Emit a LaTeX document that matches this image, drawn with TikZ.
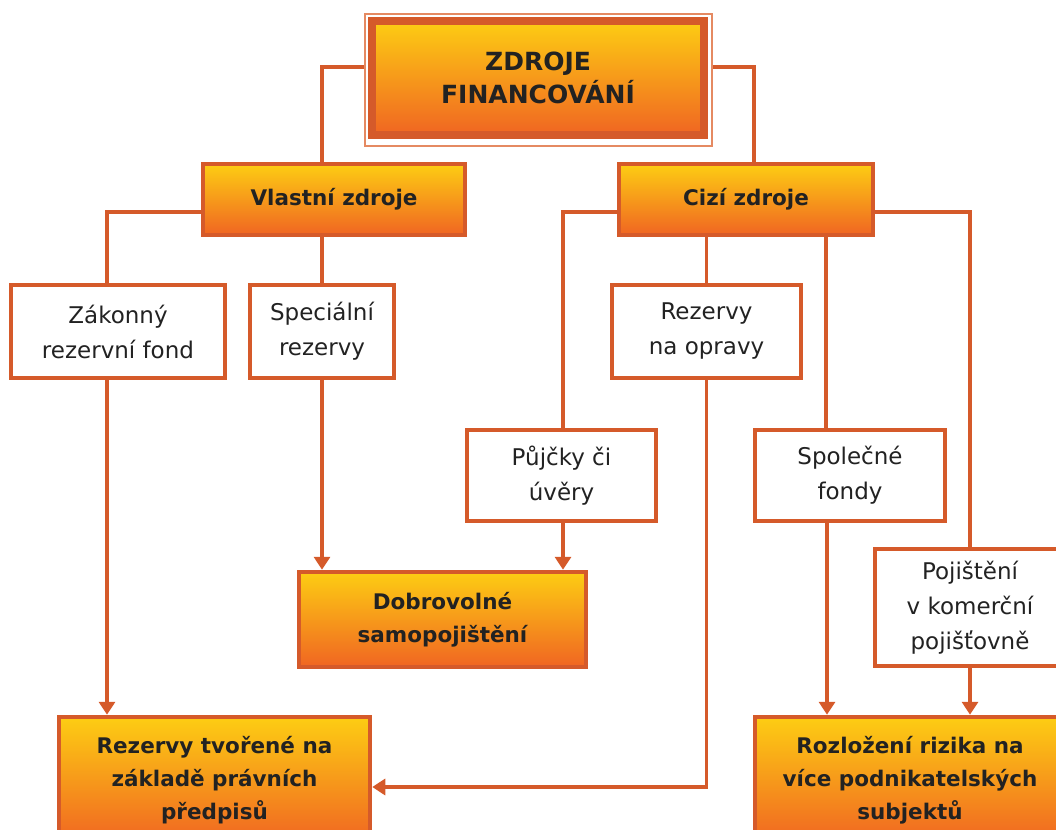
\documentclass[tikz,border=0pt]{standalone}
\usepackage{fontspec}
\setmainfont{DejaVu Sans}
\usetikzlibrary{arrows.meta}
\definecolor{edgeor}{HTML}{D55A2A}
\definecolor{frameor}{HTML}{E58A62}
\definecolor{gradtop}{HTML}{FDCD13}
\definecolor{gradbot}{HTML}{F06522}
\definecolor{ink}{HTML}{222222}
\tikzset{
  plainbox/.style={draw=edgeor, line width=4.5pt, fill=white, align=center,
    inner sep=0pt, text=ink, font=\fontsize{23}{35}\selectfont},
  keybox/.style={plainbox, top color=gradtop, bottom color=gradbot,
    font=\bfseries\fontsize{21.5}{33}\selectfont},
  link/.style={draw=edgeor, line width=3.5pt},
  arrowlink/.style={link, -{Triangle[length=13pt,width=16pt]}},
}
\begin{document}
\begin{tikzpicture}[x=1pt,y=-1pt]
\useasboundingbox (0,0) rectangle (1056,829);

% root with its double frame
\node[draw=frameor, line width=1.5pt, minimum width=347pt, minimum height=132pt,
  inner sep=0pt] (topframe) at (538.5,80) {};
\node[keybox, line width=8pt, minimum width=332pt, minimum height=114pt,
  font=\bfseries\fontsize{25}{33}\selectfont] (top) at (538,78) {ZDROJE\\FINANCOVÁNÍ};

% second level
\node[keybox, minimum width=262pt, minimum height=71pt] (vl) at (334,199.5) {Vlastní zdroje};
\node[keybox, minimum width=254pt, minimum height=71pt] (cz) at (746,199.5) {Cizí zdroje};

% white boxes
\node[plainbox, minimum width=214pt, minimum height=93pt] (zk) at (118,331.5) {Zákonný\\rezervní fond};
\node[plainbox, minimum width=144pt, minimum height=93pt] (sp) at (322,331.5) {Speciální\\rezervy};
\node[plainbox, minimum width=189pt, minimum height=93pt] (op) at (706.5,331.5) {Rezervy\\na opravy};
\node[plainbox, minimum width=189pt, minimum height=91pt] (pj) at (561.5,475.5) {Půjčky či\\úvěry};
\node[plainbox, minimum width=190pt, minimum height=91pt] (sf) at (850,475.5) {Společné\\fondy};
\node[plainbox, minimum width=190pt, minimum height=117pt] (pz) at (970,607.5) {Pojištění\\v komerční\\pojišťovně};

% result boxes
\node[keybox, minimum width=287pt, minimum height=95pt] (db) at (442.5,619.5) {Dobrovolné\\samopojištění};
\node[keybox, minimum width=311pt, minimum height=126pt] (rt) at (214.5,780) {Rezervy tvořené na\\základě právních\\předpisů};
\node[keybox, minimum width=310pt, minimum height=126pt] (rz) at (910,780) {Rozložení rizika na\\více podnikatelských\\subjektů};

% tree lines
\draw[link] ([yshift=13pt]topframe.west) -| (vl.north -| sp.north);
\draw[link] ([yshift=13pt]topframe.east) -| ([xshift=8pt]cz.north);
\draw[link] ([yshift=-12.5pt]vl.west) -| ([xshift=-11pt]zk.north);
\draw[link] (vl.south -| sp.north) -- (sp.north);
\draw[link] ([yshift=-12.5pt]cz.west) -| ([xshift=1.5pt]pj.north);
\draw[link] (cz.south -| op.north) -- (op.north);
\draw[link] ([xshift=-24pt]sf.north |- cz.south) -- ([xshift=-24pt]sf.north);
\draw[link] ([yshift=-12.5pt]cz.east) -| (pz.north);

% arrows into the result boxes
\draw[arrowlink] ([xshift=-11pt]zk.south) -- ([xshift=-11pt]zk.south |- rt.north);
\draw[arrowlink] (sp.south) -- (sp.south |- db.north);
\draw[arrowlink] ([xshift=1.5pt]pj.south) -- ([xshift=1.5pt]pj.south |- db.north);
\draw[arrowlink] (op.south) |- ([yshift=-7pt]rt.east);
\draw[arrowlink] ([xshift=-23pt]sf.south) -- ([xshift=-23pt]sf.south |- rz.north);
\draw[arrowlink] (pz.south) -- (pz.south |- rz.north);
\end{tikzpicture}
\end{document}
